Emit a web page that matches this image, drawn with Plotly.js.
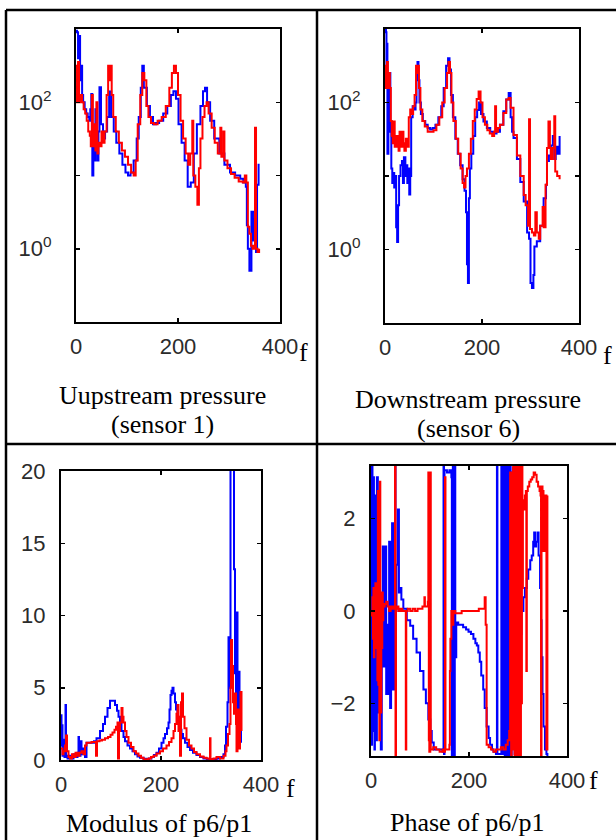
<!DOCTYPE html>
<html>
<head>
<meta charset="utf-8">
<script src="https://cdn.plot.ly/plotly-3.0.1.min.js"></script>
<style>html,body{margin:0;padding:0;background:#fff;}#chart{width:616px;height:840px;}</style>
</head>
<body>
<div id="chart"></div>
<script>
// ---------- DATA (frequency f, value) ----------
const upstreamBlue = [[0,950],[2,900],[4,400],[6,800],[8,200],[10,316],[12,126],[14,100],[17,80],[20,70],[23,63],[26,56],[28,80],[30,130],[32,10],[34,25],[36,16],[38,80],[40,32],[42,16],[44,40],[46,160],[49,50],[53,32],[57,40],[61,63],[65,140],[69,63],[74,40],[79,28],[85,20],[91,14],[97,11],[102,10],[107,11],[113,16],[119,32],[123,63],[127,158],[130,316],[133,158],[139,89],[145,63],[151,50],[157,52],[163,56],[171,70],[179,89],[186,126],[191,141],[196,112],[201,50],[207,28],[213,16],[219,7],[225,8],[231,20],[237,50],[244,89],[249,141],[253,158],[257,100],[263,56],[271,32],[281,20],[291,14],[302,11],[312,10],[322,9],[328,8],[333,7],[335,2.1],[337,1],[340,0.5],[344,3.2],[347,1.3],[350,2.5],[353,0.9],[355,7.5],[358,14],[360,14]];
const upstreamRed = [[0,316],[2,100],[4,355],[6,100],[9,126],[12,100],[15,80],[18,70],[21,56],[24,40],[27,35],[29,25],[31,126],[33,25],[35,50],[38,22],[40,100],[42,20],[44,28],[47,25],[50,40],[53,28],[56,40],[60,126],[63,316],[66,200],[68,316],[70,126],[73,63],[78,40],[84,28],[90,22],[96,18],[102,14],[108,11],[113,10],[117,16],[121,50],[126,126],[130,251],[134,200],[138,89],[142,63],[147,52],[153,50],[160,56],[168,63],[176,89],[183,158],[188,251],[192,316],[196,251],[200,126],[205,56],[210,32],[215,20],[220,14],[224,20],[228,56],[230,10],[234,7],[238,4],[241,12.6],[244,32],[248,63],[252,89],[256,100],[260,70],[266,45],[272,28],[278,20],[283,45],[285,18],[289,40],[291,16],[297,12.6],[304,10.5],[311,9.3],[319,8.3],[327,8],[331,10],[334,8],[337,2],[340,1.6],[343,1.1],[346,1],[349,1.1],[351,45],[353,1],[356,0.9],[359,1]];
const downstreamBlue = [[0,1000],[2,900],[3,316],[4,630],[5,20],[7,200],[9,251],[11,40],[13,12.6],[15,8],[17,11],[19,7],[21,10],[23,2],[25,1.26],[27,4],[29,10],[32,14],[35,16],[37,8],[39,18],[42,10],[44,14],[46,8],[48,12.6],[50,5.6],[52,10],[54,63],[57,89],[60,80],[63,100],[65,200],[67,355],[69,200],[71,100],[74,70],[78,56],[83,50],[88,45],[93,43],[98,45],[104,50],[110,63],[116,89],[121,158],[126,316],[130,400],[133,282],[136,126],[140,63],[145,32],[150,20],[155,14],[160,9],[164,6.3],[167,3.2],[169,0.63],[171,0.35],[173,5],[175,12.6],[178,20],[182,35],[186,63],[190,79],[194,100],[198,70],[203,55],[210,45],[217,40],[223,38],[230,40],[237,50],[244,76],[250,110],[255,135],[259,63],[262,40],[265,33],[272,17],[279,8.3],[286,4.5],[293,1.7],[297,1.4],[300,0.35],[303,0.3],[306,0.45],[308,1.1],[313,1.3],[320,2.1],[327,5],[332,7.6],[334,16],[338,19],[342,26],[346,35],[349,17],[352,25],[356,20],[360,35]];
const downstreamRed = [[0,316],[2,158],[4,355],[6,158],[8,251],[10,158],[12,56],[14,35],[16,28],[18,55],[20,25],[22,35],[24,25],[26,35],[28,22],[30,40],[32,28],[34,25],[36,40],[38,28],[40,22],[43,32],[46,25],[49,63],[52,80],[55,70],[58,89],[61,126],[64,316],[66,251],[68,316],[70,158],[73,80],[77,56],[82,47],[88,40],[94,40],[100,42],[106,50],[112,63],[118,100],[123,158],[128,251],[131,355],[134,251],[137,100],[141,56],[146,32],[151,20],[156,12.6],[160,8],[163,7],[166,10],[169,12.6],[173,20],[177,32],[181,56],[185,80],[189,112],[193,141],[197,100],[201,63],[206,50],[211,42],[216,38],[221,35],[225,40],[227,89],[229,40],[233,45],[237,50],[244,72],[250,110],[255,115],[259,85],[265,36],[272,19],[279,10],[286,5.5],[290,4],[295,2.1],[297,59],[299,1.9],[303,1.7],[307,1.55],[310,3.2],[313,1.7],[317,1.4],[320,2.1],[325,3.8],[327,2],[331,7.6],[334,24],[337,55],[340,24],[342,17],[346,24],[349,65],[351,11.5],[355,10],[360,9]];
const modulusBlue = [[0,3.1],[1,1.0],[2,2.4],[3,0.3],[5,1.4],[7,0.2],[9,3.8],[10,0.3],[13,0.1],[17,0.3],[21,0.1],[25,0.4],[29,0.2],[33,0.5],[35,1.6],[36,0.3],[39,1.3],[41,0.4],[45,0.8],[48,0.2],[51,1.2],[56,1.2],[61,1.2],[66,1.3],[71,1.5],[78,2.0],[84,2.5],[88,3.0],[93,3.6],[98,4.1],[103,4.1],[108,3.8],[112,3.4],[115,3.0],[118,2.5],[121,2.0],[125,1.6],[128,1.3],[133,1.0],[138,0.8],[143,0.6],[148,0.4],[153,0.25],[158,0.15],[165,0.08],[171,0.05],[176,0.1],[181,0.2],[186,0.35],[191,0.5],[196,0.8],[201,1.2],[205,1.5],[208,1.8],[212,2.2],[215,2.6],[217,3.5],[219,4.5],[221,4.8],[223,5.0],[225,4.6],[228,4.0],[230,3.5],[233,3.0],[235,2.5],[238,2.1],[241,1.8],[244,1.5],[248,1.2],[253,0.9],[258,0.7],[264,0.5],[271,0.35],[278,0.2],[285,0.1],[292,0.06],[298,0.05],[304,0.07],[311,0.1],[318,0.2],[325,0.4],[328,1.0],[330,2.3],[333,4.0],[335,8.5],[337,5],[339,21],[344,21],[346,13.2],[348,6],[350,4],[351,10.2],[353,3],[355,6.1],[357,4],[358,2.8],[360,1.2]];
const modulusRed = [[0,0.8],[3,0.4],[5,0.6],[8,1.0],[10,1.7],[12,0.6],[15,0.2],[18,0.1],[22,0.4],[25,0.2],[29,0.5],[33,0.3],[37,0.5],[41,0.6],[45,0.4],[48,1.0],[51,1.2],[56,1.2],[61,1.25],[66,1.25],[69,1.25],[70,0.3],[72,1.3],[77,1.35],[82,1.4],[88,1.5],[94,1.6],[99,1.75],[103,1.9],[107,2.1],[110,2.3],[113,2.6],[114,0.1],[116,2.0],[118,2.6],[121,3.6],[123,3.0],[125,2.6],[128,2.0],[131,1.6],[135,1.2],[140,0.9],[145,0.6],[150,0.45],[155,0.3],[160,0.15],[165,0.05],[170,0.05],[175,0.1],[180,0.2],[185,0.3],[191,0.45],[198,0.6],[204,0.8],[211,1.0],[216,1.25],[221,1.5],[225,2.0],[228,2.5],[231,3.2],[233,3.8],[235,2.0],[237,3.0],[238,0.3],[240,4.0],[242,4.6],[244,3.0],[247,2.2],[251,1.4],[256,1.0],[261,0.8],[266,0.55],[271,0.4],[278,0.25],[285,0.15],[291,0.1],[297,0.05],[298,1.5],[299,0.05],[305,0.1],[311,0.2],[318,0.1],[325,0.3],[329,0.6],[331,1.0],[334,1.8],[337,2.5],[339,5.0],[340,8.3],[342,6.5],[344,4.0],[346,3.2],[348,4.6],[350,2.5],[351,0.6],[353,3.5],[355,2.0],[356,0.8],[358,3.0],[359,4.7],[361,2.0]];
const phaseBlue = [[0,3.14],[1,-2.9],[2,3.14],[3,0.3],[4,-2.6],[5,2.9],[6,-0.5],[7,-3.0],[8,2.5],[9,-1.0],[10,1.2],[11,-2.8],[12,2.9],[14,-1.2],[15,2.2],[16,-2.2],[18,-0.5],[20,-3.0],[22,-0.4],[24,1.4],[25,-1.2],[27,-0.6],[29,1.4],[31,-1.8],[33,-1.8],[35,-0.3],[37,1.5],[39,-2.1],[41,0.8],[43,1.9],[45,-1.7],[47,-0.3],[49,3.14],[50,0.0],[52,1.0],[55,2.2],[57,0.4],[59,0.5],[62,0.25],[66,0.05],[73,-0.2],[80,-0.32],[86,-0.6],[93,-0.9],[100,-1.3],[107,-1.7],[112,-2.0],[117,-2.35],[121,-2.6],[124,-2.85],[128,-3.0],[135,-3.0],[141,-3.0],[146,-3.05],[148,3.14],[149,-3.1],[150,3.05],[155,3.0],[160,3.05],[164,2.9],[165,-3.14],[167,3.14],[169,-3.14],[171,3.14],[172,-1.0],[174,-0.25],[178,-0.3],[182,-0.3],[188,-0.35],[194,-0.4],[199,-0.45],[204,-0.5],[209,-0.6],[213,-0.7],[216,-0.75],[219,-0.9],[222,-1.1],[225,-1.4],[229,-1.7],[232,-2.1],[236,-2.5],[240,-2.75],[243,-2.9],[247,-3.0],[250,-3.05],[255,-3.1],[257,3.14],[258,-3.1],[263,-3.1],[266,3.14],[268,-3.1],[271,3.14],[273,-3.14],[275,3.14],[277,-3.14],[279,3.14],[281,-3.14],[283,3.14],[285,-3.14],[287,3.0],[290,3.1],[293,-3.1],[296,-2.0],[300,-1.2],[304,-0.5],[307,0.0],[311,0.3],[314,0.5],[318,0.7],[321,0.9],[325,1.1],[328,1.2],[331,1.5],[333,1.7],[335,1.4],[337,1.5],[340,1.7],[342,1.2],[345,0.5],[347,-0.2],[348,-1.0],[350,-1.8],[352,-2.5],[355,-3.0],[358,-3.1],[360,-3.14]];
const phaseRed = [[0,0.0],[2,-0.1],[3,0.3],[4,-0.6],[5,0.5],[6,-1.0],[7,0.2],[8,-0.4],[9,0.6],[10,-0.8],[11,0.0],[12,0.4],[13,-1.5],[14,2.6],[15,-1.6],[16,0.3],[17,-2.8],[18,2.8],[19,-0.6],[20,-2.2],[21,0.2],[22,-0.8],[23,0.4],[24,-0.2],[25,0.1],[28,0.15],[31,0.2],[34,0.1],[37,0.0],[40,0.1],[43,0.05],[46,0.1],[48,0.05],[49,3.14],[50,-3.14],[51,0.05],[53,0.1],[56,0.0],[60,0.05],[64,0.0],[70,0.0],[71,-3.0],[72,0.0],[75,0.05],[80,0.0],[85,0.05],[90,0.0],[95,0.05],[100,0.05],[105,0.1],[109,0.3],[110,0.1],[113,0.1],[116,0.2],[117,3.0],[118,-2.8],[119,-3.05],[121,3.0],[122,-3.0],[127,-2.95],[133,-3.0],[140,-3.05],[146,-3.0],[150,-3.05],[151,2.9],[152,-3.0],[157,-3.0],[160,-2.9],[161,-1.3],[162,-0.6],[164,0.0],[166,-0.3],[168,0.0],[172,-0.05],[178,-0.05],[185,0.0],[192,0.0],[200,0.0],[207,0.0],[214,0.0],[220,0.05],[225,0.05],[230,0.05],[232,0.3],[234,-0.3],[236,-2.9],[240,-2.95],[245,-3.0],[250,-3.05],[255,-3.0],[260,-3.0],[265,-2.95],[270,-3.0],[275,-2.9],[279,-2.8],[282,-2.6],[284,3.0],[286,-3.14],[287,2.9],[288,-3.0],[290,3.14],[291,-2.0],[292,3.14],[293,-3.14],[294,2.8],[295,-2.5],[296,3.14],[297,-3.14],[298,2.5],[299,-1.0],[300,3.14],[301,-3.14],[302,2.6],[303,-2.8],[304,3.14],[305,-3.14],[306,2.0],[307,-2.0],[308,3.14],[309,0.5],[310,2.4],[312,2.2],[314,2.5],[316,2.6],[317,-1.3],[318,2.6],[320,2.7],[323,2.8],[326,2.85],[329,2.9],[332,3.0],[335,2.95],[338,2.8],[341,2.7],[344,2.6],[346,2.5],[347,-3.14],[348,2.7],[350,2.6],[352,1.3],[354,2.4],[356,2.5],[358,-3.0],[360,2.5]];

const xTickVals = [0, 200, 400];
const xTickText = ['0', '200', '400'];
const logTickVals = [1, 100];
const logTickText = ['10<sup>0</sup>', '10<sup>2</sup>'];
const logMinorTickVals = [10];
const modTickVals = [0, 5, 10, 15, 20];
const phaseTickVals = [-2, 0, 2];
const phaseTickText = ['\u22122', '0', '2'];

const captions = [
  {text: 'Uupstream pressure', x: 162, y: 395},
  {text: '(sensor 1)', x: 162, y: 424},
  {text: 'Downstream pressure', x: 468, y: 399},
  {text: '(sensor 6)', x: 468, y: 428},
  {text: 'Modulus of p6/p1', x: 159, y: 823},
  {text: 'Phase of p6/p1', x: 467, y: 822}
];
const fLabels = [[303, 352], [607, 355], [290, 788], [593, 780]];

// ---------- BUILD ----------
const W = 616, H = 840;
const px = v => v / W, py = v => 1 - v / H;
const BLUE = '#0000ff', RED = '#ff0000';

function tr(series, color, xa, ya) {
  return {
    x: series.map(p => p[0]), y: series.map(p => p[1]),
    xaxis: xa, yaxis: ya, type: 'scatter', mode: 'lines',
    line: {color: color, width: 2, shape: 'hv'},
    hoverinfo: 'skip', showlegend: false
  };
}

const data = [
  tr(upstreamBlue, BLUE, 'x', 'y'), tr(upstreamRed, RED, 'x', 'y'),
  tr(downstreamBlue, BLUE, 'x2', 'y2'), tr(downstreamRed, RED, 'x2', 'y2'),
  tr(modulusBlue, BLUE, 'x3', 'y3'), tr(modulusRed, RED, 'x3', 'y3'),
  tr(phaseBlue, BLUE, 'x4', 'y4'), tr(phaseRed, RED, 'x4', 'y4')
];

const tickFont = {family: 'Liberation Sans, Arial, sans-serif', size: 22, color: '#2b2b2b'};
function xax(dom, anchor) {
  return {domain: dom, anchor: anchor, range: [0, 400], tickvals: xTickVals, ticktext: xTickText,
    ticks: 'inside', ticklen: 4, tickwidth: 1.5, tickcolor: '#000', showline: true, linecolor: '#000',
    linewidth: 2, mirror: 'ticks', showgrid: false, zeroline: false, tickfont: tickFont,
    ticklabelstandoff: 4, fixedrange: true};
}
function yax(dom, anchor, extra) {
  return Object.assign({domain: dom, anchor: anchor, ticks: 'inside', ticklen: 4, tickwidth: 1.5,
    tickcolor: '#000', showline: true, linecolor: '#000', linewidth: 2, mirror: 'ticks',
    showgrid: false, zeroline: false, tickfont: tickFont, fixedrange: true}, extra);
}
const logMinor = {tickvals: logMinorTickVals, ticks: 'inside', ticklen: 4, tickwidth: 1.5, tickcolor: '#000', showgrid: false};

const layout = {
  width: W, height: H, margin: {l: 0, r: 0, t: 0, b: 0}, paper_bgcolor: '#fff', plot_bgcolor: '#fff',
  showlegend: false,
  xaxis: xax([px(76), px(280)], 'y'),
  yaxis: yax([py(322), py(29)], 'x', {type: 'log', range: [-1, 3], tickvals: logTickVals, ticktext: logTickText, ticklabelstandoff: 18, minor: logMinor}),
  xaxis2: xax([px(385), px(579)], 'y2'),
  yaxis2: yax([py(323), py(29)], 'x2', {type: 'log', range: [-1, 3], tickvals: logTickVals, ticktext: logTickText, ticklabelstandoff: 18, minor: logMinor}),
  xaxis3: xax([px(61), px(261)], 'y3'),
  yaxis3: yax([py(760), py(471)], 'x3', {range: [0, 20], tickvals: modTickVals, ticklabelstandoff: 9}),
  xaxis4: xax([px(371), px(567)], 'y4'),
  yaxis4: yax([py(756), py(466)], 'x4', {range: [-Math.PI, Math.PI], tickvals: phaseTickVals, ticktext: phaseTickText, ticklabelstandoff: 9}),
  annotations: captions.map(c => ({text: c.text, x: px(c.x), y: py(c.y), xref: 'paper', yref: 'paper',
      xanchor: 'center', yanchor: 'middle', showarrow: false,
      font: {family: 'Liberation Serif, Times New Roman, serif', size: 26, color: '#000'}}))
    .concat(fLabels.map(f => ({text: 'f', x: px(f[0]), y: py(f[1]), xref: 'paper', yref: 'paper',
      xanchor: 'center', yanchor: 'middle', showarrow: false,
      font: {family: 'Liberation Serif, Times New Roman, serif', size: 26, color: '#000'}}))),
  shapes: [
    {type: 'line', xref: 'paper', yref: 'paper', x0: px(6), x1: 1, y0: py(10), y1: py(10), line: {color: '#000', width: 2.5}},
    {type: 'line', xref: 'paper', yref: 'paper', x0: px(6), x1: px(6), y0: py(10), y1: 0, line: {color: '#000', width: 2.5}},
    {type: 'line', xref: 'paper', yref: 'paper', x0: px(317), x1: px(317), y0: py(10), y1: 0, line: {color: '#000', width: 2.5}},
    {type: 'line', xref: 'paper', yref: 'paper', x0: px(6), x1: 1, y0: py(444), y1: py(444), line: {color: '#000', width: 2.5}}
  ]
};

Plotly.newPlot('chart', data, layout, {displayModeBar: false, staticPlot: true});
</script>
</body>
</html>
